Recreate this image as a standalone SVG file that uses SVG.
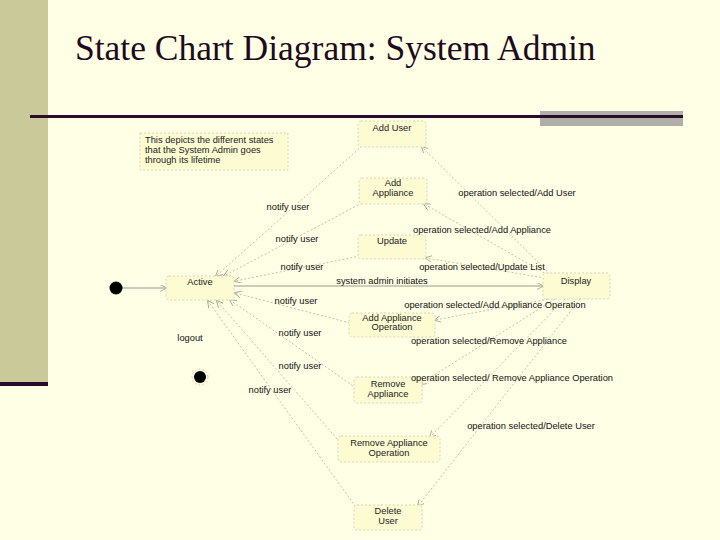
<svg xmlns="http://www.w3.org/2000/svg" width="720" height="540" viewBox="0 0 720 540">
<defs>
<style>
.node rect{fill:#FDFBD2;stroke:#CFCBB4;stroke-width:0.8;stroke-dasharray:2 2}
.t{font-family:"Liberation Sans",Arial,sans-serif;font-size:9.3px;fill:#222;text-anchor:middle}
.n{font-family:"Liberation Sans",Arial,sans-serif;font-size:9.3px;fill:#222;text-anchor:start}
.lb{font-family:"Liberation Sans",Arial,sans-serif;font-size:9.3px;fill:#111;text-anchor:middle}
.c line{stroke:#B4B09C;stroke-width:0.8;stroke-dasharray:2 2;fill:none}
.c .s{stroke:#9E9A88;stroke-dasharray:none;stroke-width:1}
</style>
<marker id="a" viewBox="0 0 8 8" refX="7" refY="4" markerWidth="7" markerHeight="7" orient="auto-start-reverse" markerUnits="userSpaceOnUse">
<path d="M0,0 L8,4 L0,8" fill="none" stroke="#A8A490" stroke-width="1"/>
</marker>
</defs>
<rect width="720" height="540" fill="#FFFFE5"/>
<rect x="0" y="0" width="48" height="382" fill="#C9C99A"/>
<rect x="0" y="382" width="48" height="4" fill="#2A0A2A"/>
<rect x="540" y="111" width="143" height="15" fill="#B0B0A8"/>
<rect x="30" y="115" width="653" height="3" fill="#2B0B2B"/>
<text x="75" y="60" font-family="Liberation Serif,'Times New Roman',serif" font-size="35.5" fill="#1E0A1E">State Chart Diagram: System Admin</text>

<g class="c" id="connectors">
<line class="s" x1="122" y1="288" x2="166" y2="288" marker-end="url(#a)"/>
<line class="s" x1="234" y1="286" x2="543" y2="286" marker-end="url(#a)"/>
<line x1="362" y1="146" x2="216" y2="276" marker-end="url(#a)"/>
<line x1="362" y1="203" x2="224" y2="276" marker-end="url(#a)"/>
<line x1="360" y1="256" x2="235" y2="281" marker-end="url(#a)"/>
<line x1="350" y1="323" x2="235" y2="293" marker-end="url(#a)"/>
<line x1="356" y1="388" x2="230" y2="300" marker-end="url(#a)"/>
<line x1="345" y1="448" x2="217" y2="301" marker-end="url(#a)"/>
<line x1="358" y1="510" x2="208" y2="301" marker-end="url(#a)"/>
<line x1="550" y1="274" x2="422" y2="147" marker-end="url(#a)"/>
<line x1="548" y1="275" x2="424" y2="204" marker-end="url(#a)"/>
<line x1="545" y1="278" x2="426" y2="258" marker-end="url(#a)"/>
<line x1="548" y1="299" x2="435" y2="320" marker-end="url(#a)"/>
<line x1="555" y1="299" x2="420" y2="384" marker-end="url(#a)"/>
<line x1="565" y1="299" x2="430" y2="437" marker-end="url(#a)"/>
<line x1="580" y1="299" x2="418" y2="506" marker-end="url(#a)"/>
</g>

<g id="initial"><circle cx="116" cy="288" r="6.5" fill="#000"/></g>
<g id="final"><circle cx="200" cy="377" r="8" fill="none" stroke="#C8C4AC" stroke-width="0.8" stroke-dasharray="2 2"/><circle cx="200" cy="377" r="6" fill="#000"/></g>

<g id="note" class="node"><rect x="140" y="133" width="148" height="37"/>
<text class="n" x="145" y="143">This depicts the different states</text>
<text class="n" x="145" y="153">that the System Admin goes</text>
<text class="n" x="145" y="163">through its lifetime</text></g>

<g id="addUser" class="node"><rect x="358" y="121" width="68" height="26" rx="3"/><text class="t" x="392" y="131">Add User</text></g>
<g id="addAppliance" class="node"><rect x="359" y="178" width="68" height="26" rx="3"/><text class="t" x="393" y="186">Add</text><text class="t" x="393" y="196">Appliance</text></g>
<g id="update" class="node"><rect x="358" y="235" width="68" height="24" rx="3"/><text class="t" x="392" y="244">Update</text></g>
<g id="active" class="node"><rect x="166" y="276" width="68" height="24" rx="3"/><text class="t" x="200" y="285">Active</text></g>
<g id="display" class="node"><rect x="543" y="273" width="67" height="26" rx="3"/><text class="t" x="576" y="284">Display</text></g>
<g id="addApplianceOp" class="node"><rect x="349" y="313" width="86" height="24" rx="3"/><text class="t" x="392" y="321">Add Appliance</text><text class="t" x="392" y="330">Operation</text></g>
<g id="removeAppliance" class="node"><rect x="354" y="377" width="68" height="26" rx="3"/><text class="t" x="388" y="387">Remove</text><text class="t" x="388" y="397">Appliance</text></g>
<g id="removeApplianceOp" class="node"><rect x="338" y="436" width="102" height="26" rx="3"/><text class="t" x="389" y="446">Remove Appliance</text><text class="t" x="389" y="456">Operation</text></g>
<g id="deleteUser" class="node"><rect x="354" y="505" width="68" height="25" rx="3"/><text class="t" x="388" y="514">Delete</text><text class="t" x="388" y="524">User</text></g>

<g id="labels">
<text class="lb" x="288" y="210">notify user</text>
<text class="lb" x="297" y="242">notify user</text>
<text class="lb" x="302" y="270">notify user</text>
<text class="lb" x="382" y="284">system admin initiates</text>
<text class="lb" x="296" y="304">notify user</text>
<text class="lb" x="300" y="336">notify user</text>
<text class="lb" x="190" y="341">logout</text>
<text class="lb" x="300" y="369">notify user</text>
<text class="lb" x="270" y="393">notify user</text>
<text class="lb" x="517" y="196">operation selected/Add User</text>
<text class="lb" x="482" y="233">operation selected/Add Appliance</text>
<text class="lb" x="482" y="270">operation selected/Update List</text>
<text class="lb" x="495" y="308">operation selected/Add Appliance Operation</text>
<text class="lb" x="489" y="344">operation selected/Remove Appliance</text>
<text class="lb" x="512" y="381">operation selected/ Remove Appliance Operation</text>
<text class="lb" x="531" y="429">operation selected/Delete User</text>
</g>
</svg>
